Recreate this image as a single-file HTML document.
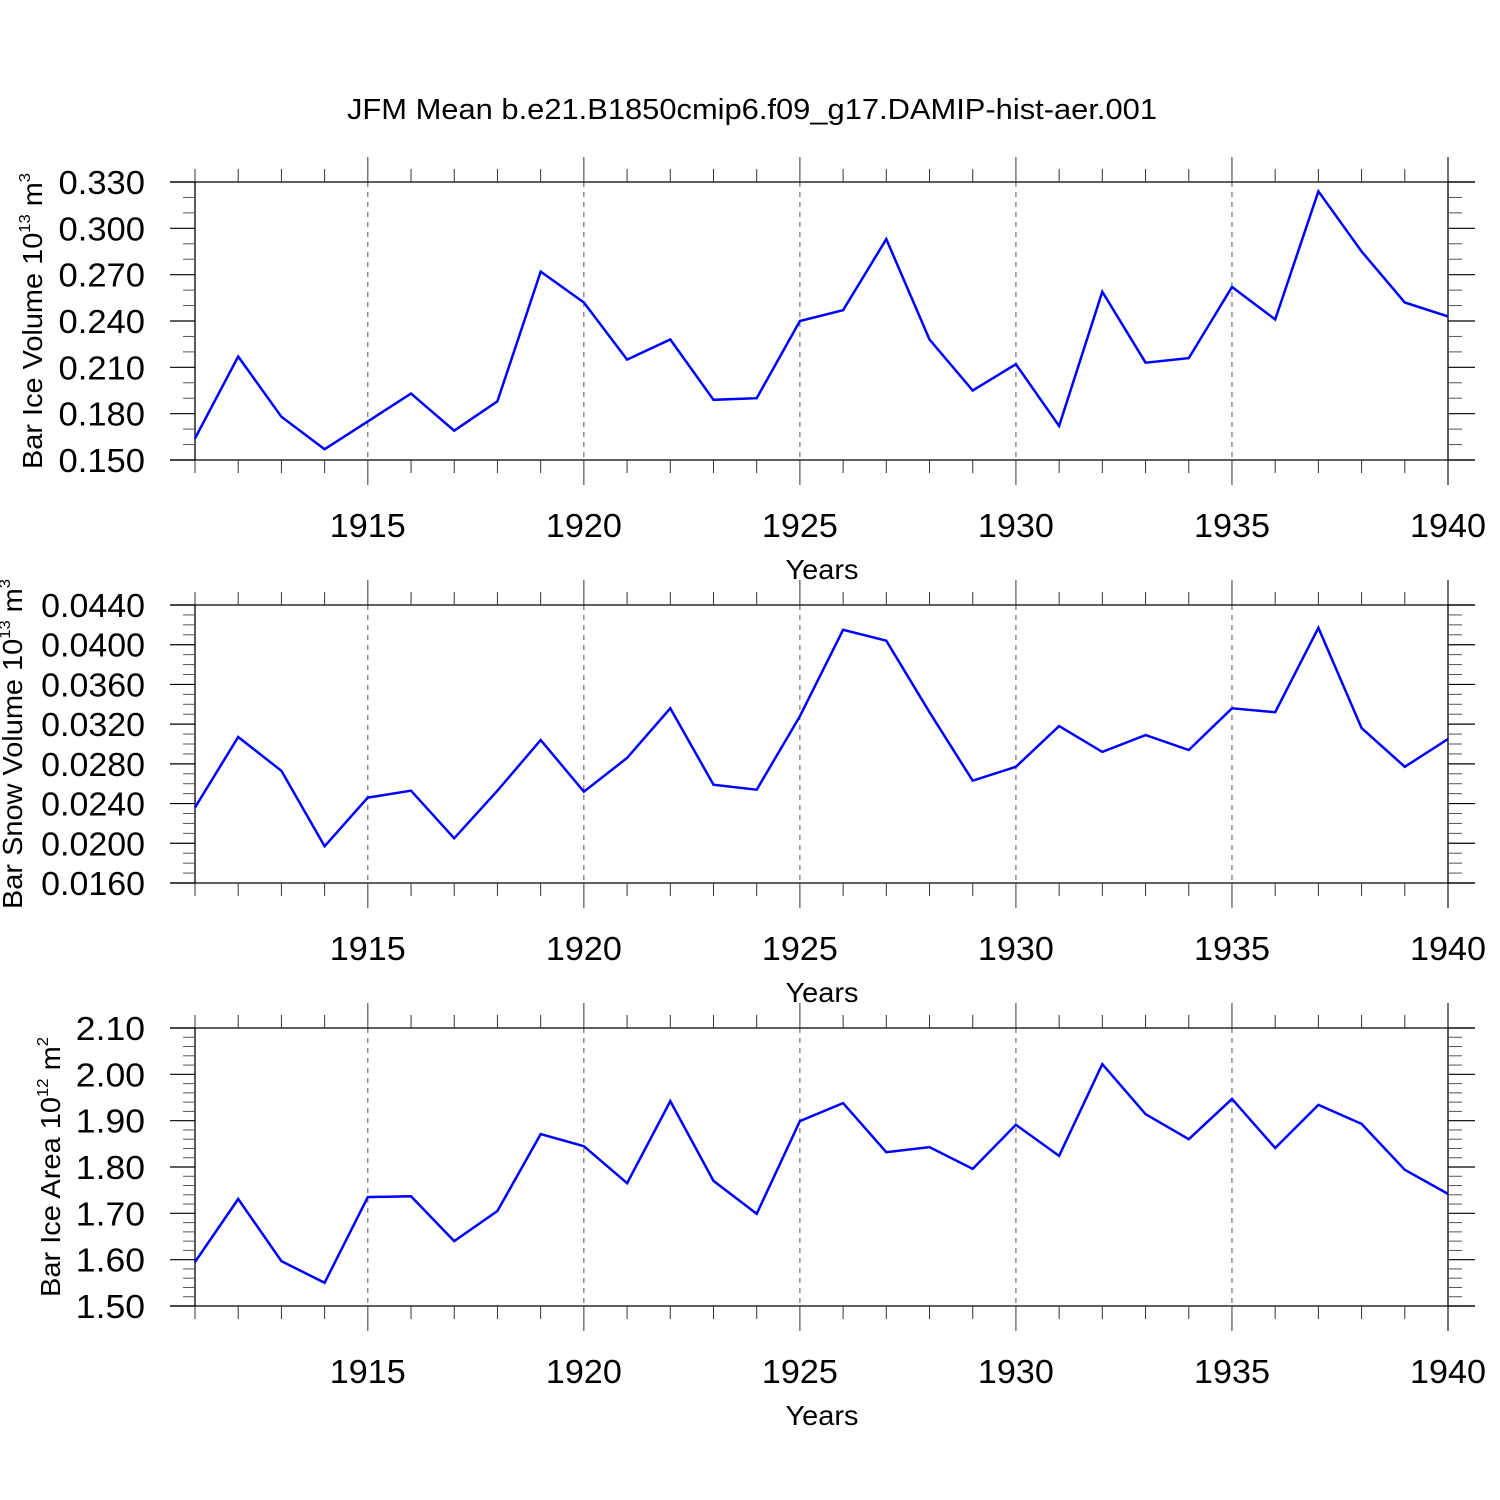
<!DOCTYPE html>
<html><head><meta charset="utf-8"><style>
html,body{margin:0;padding:0;background:#fff}
svg{display:block;font-family:"Liberation Sans",Arial,sans-serif}
</style></head><body>
<svg id="chart" width="1500" height="1500" viewBox="0 0 1500 1500" xmlns="http://www.w3.org/2000/svg">
<text x="752" y="119" font-size="29" text-anchor="middle" textLength="810" lengthAdjust="spacingAndGlyphs">JFM Mean b.e21.B1850cmip6.f09_g17.DAMIP-hist-aer.001</text>
<g id="plots"></g>
</svg>
<script>
const years = [1911,1912,1913,1914,1915,1916,1917,1918,1919,1920,1921,1922,1923,1924,1925,1926,1927,1928,1929,1930,1931,1932,1933,1934,1935,1936,1937,1938,1939,1940];
const iceVolume = [0.164,0.217,0.178,0.157,0.175,0.193,0.169,0.188,0.272,0.252,0.215,0.228,0.189,0.190,0.240,0.247,0.293,0.228,0.195,0.212,0.172,0.259,0.213,0.216,0.262,0.241,0.324,0.285,0.252,0.243];
const snowVolume = [0.0236,0.0307,0.0273,0.0197,0.0246,0.0253,0.0205,0.0253,0.0304,0.0252,0.0286,0.0336,0.0259,0.0254,0.0328,0.0415,0.0404,0.0332,0.0263,0.0277,0.0318,0.0292,0.0309,0.0294,0.0336,0.0332,0.0417,0.0316,0.0277,0.0305];
const iceArea = [1.595,1.731,1.597,1.550,1.735,1.737,1.640,1.705,1.871,1.845,1.765,1.942,1.770,1.699,1.899,1.938,1.832,1.843,1.796,1.891,1.824,2.022,1.914,1.860,1.947,1.841,1.934,1.893,1.794,1.742];
const xTickLabels = ["1915","1920","1925","1930","1935","1940"];
const iceVolumeTicks = ["0.150","0.180","0.210","0.240","0.270","0.300","0.330"];
const snowVolumeTicks = ["0.0160","0.0200","0.0240","0.0280","0.0320","0.0360","0.0400","0.0440"];
const iceAreaTicks = ["1.50","1.60","1.70","1.80","1.90","2.00","2.10"];

const NS="http://www.w3.org/2000/svg";
const root=document.getElementById('plots');
const X0=195,X1=1448;
function xs(yr){return X0+(yr-1911)*(X1-X0)/(1940-1911);}
function mk(tag,attrs,parent){const e=document.createElementNS(NS,tag);for(const k in attrs)e.setAttribute(k,attrs[k]);(parent||root).appendChild(e);return e;}

const panels=[
 {name:'ice-volume',top:182,vals:iceVolume,ticks:iceVolumeTicks,minors:2,label:['Bar Ice Volume 10','13',' m','3'],lx:42,len:296},
 {name:'snow-volume',top:605,vals:snowVolume,ticks:snowVolumeTicks,minors:3,label:['Bar Snow Volume 10','13',' m','3'],lx:22,len:330},
 {name:'ice-area',top:1028,vals:iceArea,ticks:iceAreaTicks,minors:4,label:['Bar Ice Area 10','12',' m','2'],lx:60,len:260}
];
panels.forEach(p=>{
 const g=mk('g',{});
 
 
 const T=p.top,B=p.top+278;
 const lo=parseFloat(p.ticks[0]),hi=parseFloat(p.ticks[p.ticks.length-1]);
 const ys=v=>B-(v-lo)/(hi-lo)*(B-T);
 xTickLabels.forEach(l=>{const x=xs(+l);if(+l<1940){const d=mk('line',{x1:x,x2:x,y1:T,y2:B,stroke:'#555','stroke-width':1,'stroke-dasharray':'5,5'},g);}});
 mk('line',{x1:170,x2:1475,y1:T,y2:T,stroke:'#000','stroke-width':1.3},g);
 mk('line',{x1:170,x2:1475,y1:B,y2:B,stroke:'#000','stroke-width':1.3},g);
 mk('line',{x1:X0,x2:X0,y1:T,y2:B,stroke:'#000','stroke-width':1.3},g);
 mk('line',{x1:X1,x2:X1,y1:T-25,y2:B+25,stroke:'#000','stroke-width':1.3},g);
 years.forEach(yr=>{const x=xs(yr);const major=xTickLabels.includes(String(yr));const L=major?25:13;
  mk('line',{x1:x,x2:x,y1:T-L,y2:T,stroke:'#333','stroke-width':1},g);
  mk('line',{x1:x,x2:x,y1:B,y2:B+L,stroke:'#333','stroke-width':1},g);});
 xTickLabels.forEach(l=>{const t=mk('text',{x:xs(+l),y:B+77,'font-size':33,'text-anchor':'middle','textLength':76,'lengthAdjust':'spacingAndGlyphs'},g);t.textContent=l;
  });
 const n=p.ticks.length-1;
 for(let i=0;i<n;i++){for(let j=1;j<=p.minors;j++){const y=T+(B-T)*(i+j/(p.minors+1))/n;
  mk('line',{x1:183,x2:X0,y1:y,y2:y,stroke:'#555','stroke-width':1},g);
  mk('line',{x1:X1,x2:1462,y1:y,y2:y,stroke:'#555','stroke-width':1},g);}}
 p.ticks.forEach(l=>{const y=ys(parseFloat(l));
  mk('line',{x1:170,x2:X0,y1:y,y2:y,stroke:'#000','stroke-width':1.2},g);
  mk('line',{x1:X1,x2:1475,y1:y,y2:y,stroke:'#000','stroke-width':1.2},g);
  const t=mk('text',{x:145,y:y+12,'font-size':33,'text-anchor':'end','textLength':l.length*17.3,'lengthAdjust':'spacingAndGlyphs'},g);t.textContent=l;
  });
 const pts=p.vals.map((v,i)=>xs(years[i]).toFixed(1)+','+ys(v).toFixed(1)).join(' ');
 const pl=mk('polyline',{points:pts,fill:'none',stroke:'#0000ff','stroke-width':2.5,'stroke-linejoin':'miter'},g);
 
 
 const xt=mk('text',{x:822,y:B+119,'font-size':28,'text-anchor':'middle','textLength':73,'lengthAdjust':'spacingAndGlyphs'},g);xt.textContent='Years';
 
 const cy=(T+B)/2;
 const yt=mk('text',{x:0,y:0,'font-size':28,'text-anchor':'middle',transform:`translate(${p.lx},${cy}) rotate(-90)`},g);
 
 const s1=mk('tspan',{},yt);s1.textContent=p.label[0];
 const s2=mk('tspan',{'font-size':16,dy:-12},yt);s2.textContent=p.label[1];
 const s3=mk('tspan',{dy:12},yt);s3.textContent=p.label[2];
 const s4=mk('tspan',{'font-size':16,dy:-12},yt);s4.textContent=p.label[3];
 yt.setAttribute('textLength',p.len);
 yt.setAttribute('lengthAdjust','spacingAndGlyphs');
});
</script>
</body></html>
